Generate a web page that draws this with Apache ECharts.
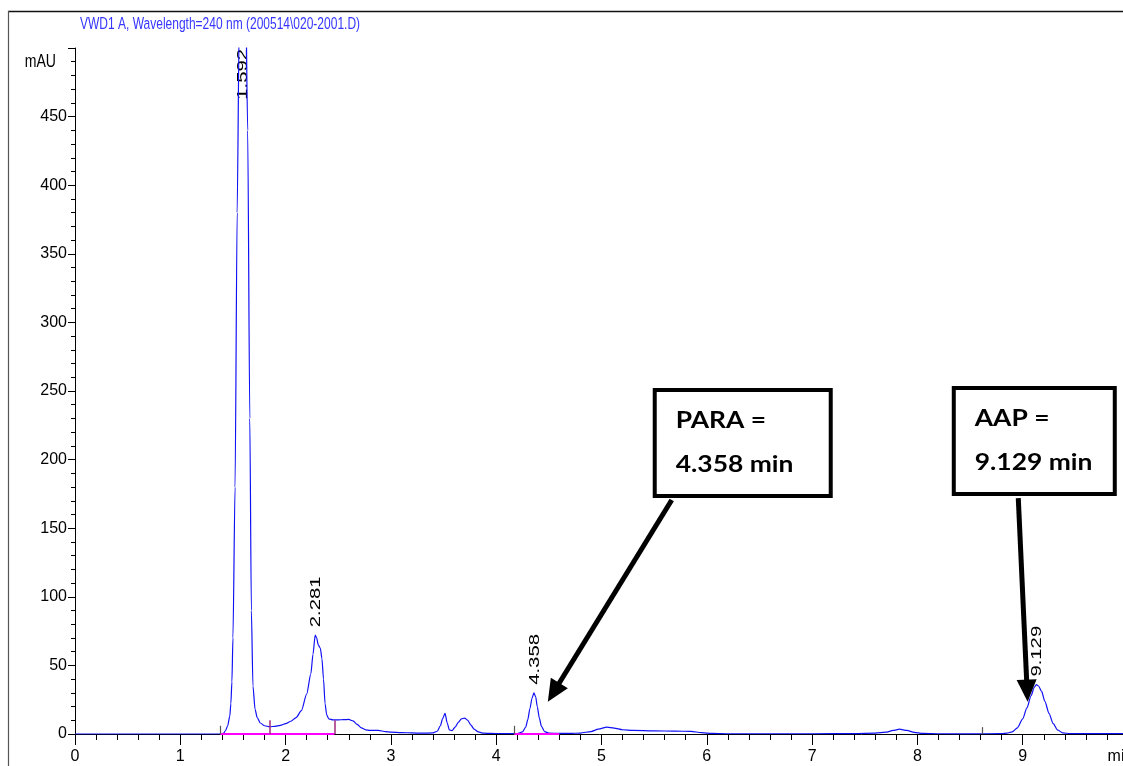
<!DOCTYPE html>
<html>
<head>
<meta charset="utf-8">
<script src="https://cdn.jsdelivr.net/npm/echarts/dist/echarts.min.js"></script>
<style>
  html, body { margin: 0; padding: 0; background: #ffffff; }
  #chart { width: 1123px; height: 766px; }
</style>
</head>
<body>
<div id="chart"></div>
<script>
// VWD1 A detector trace: [retention time (min), absorbance (mAU)]
const signal = [
  [0, 0], [1.38, 0], [1.41, 0.5], [1.43, 2.5], [1.45, 6], [1.47, 13], [1.48, 22], [1.49, 38],
  [1.50, 70], [1.52, 180], [1.54, 380], [1.56, 520], [1.592, 580], [1.62, 545], [1.64, 440],
  [1.66, 230], [1.675, 90], [1.69, 35], [1.71, 18], [1.73, 12], [1.76, 8], [1.80, 6], [1.85, 5.3],
  [1.90, 5.6], [1.95, 6.3], [2.00, 7.5], [2.05, 9.3], [2.10, 12], [2.15, 17], [2.20, 29],
  [2.24, 44], [2.26, 58], [2.281, 72], [2.295, 70], [2.31, 65], [2.33, 62.5], [2.345, 55],
  [2.36, 40], [2.375, 22], [2.39, 14], [2.41, 11], [2.45, 10.3], [2.50, 10.3], [2.55, 10.5],
  [2.60, 10.6], [2.64, 9.5], [2.68, 7], [2.72, 4.5], [2.76, 3], [2.80, 2.6], [2.88, 2.6],
  [2.95, 1.8], [3.00, 1.3], [3.10, 1.0], [3.20, 0.8], [3.30, 0.6], [3.40, 0.8], [3.44, 2.0],
  [3.47, 6], [3.49, 11], [3.514, 15], [3.535, 8], [3.555, 3], [3.58, 2.4], [3.61, 5],
  [3.64, 8.5], [3.67, 11], [3.70, 11.6], [3.73, 10], [3.76, 6.5], [3.79, 3.5], [3.83, 1.5],
  [3.88, 0.6], [3.95, 0.4], [4.05, 0.3], [4.20, 0.3], [4.25, 1.5], [4.28, 5], [4.30, 10.5],
  [4.32, 18.5], [4.34, 26], [4.358, 30], [4.375, 27], [4.39, 20], [4.41, 11.5], [4.43, 5.5],
  [4.46, 1.8], [4.50, 0.6], [4.60, 0.4], [4.70, 0.4], [4.80, 0.7], [4.90, 1.8], [4.97, 3.5],
  [5.05, 5.0], [5.12, 4.3], [5.20, 3.1], [5.30, 2.6], [5.50, 2.3], [5.70, 2.1], [5.85, 1.9],
  [5.95, 1.0], [6.05, 0.4], [6.20, 0.2], [6.60, 0.2], [7.00, 0.2], [7.40, 0.3], [7.60, 0.6],
  [7.70, 1.3], [7.77, 2.6], [7.83, 3.5], [7.90, 2.6], [7.97, 1.2], [8.05, 0.4], [8.20, 0.2],
  [8.50, 0.1], [8.80, 0.3], [8.85, 0.6], [8.90, 1.6], [8.95, 4.5], [9.00, 11], [9.04, 19],
  [9.08, 28], [9.11, 34], [9.129, 36], [9.15, 35], [9.18, 31], [9.21, 24], [9.25, 15],
  [9.29, 7.5], [9.33, 3], [9.38, 0.8], [9.45, 0.3], [9.60, 0.3], [9.80, 0.3], [10.0, 0.3]
];

// integrated peaks (retention times printed above each apex)
const peakTimes = [1.592, 2.281, 4.358, 9.129];
const peakLabels = ['1.592', '2.281', '4.358', '9.129'];

// integration baselines and event marks
const integrationBaselines = [[1.38, 2.463], [4.17, 4.60]];
const dropLines = [[1.845, 10], [2.463, 10]];
const eventMarks = [[1.38, 6], [4.17, 6], [8.62, 5]];

// call-out arrows: [from [min, mAU], to [min, mAU]]
const arrows = [
  [[5.667, 170.6], [4.545, 30.4]],
  [[8.958, 172.0], [9.042, 31.6]]
];
const callouts = [
  { lines: ['PARA =', '4.358 min'], offset: 17, width: 176 },
  { lines: ['AAP =', '9.129 min'], offset: 64.5, width: 161 }
];

const yMax = 500;
const xMax = 10;
const sans = '"Liberation Sans", Arial, sans-serif';

const chart = echarts.init(document.getElementById('chart'), null, { renderer: 'canvas' });

const option = {
  animation: false,
  backgroundColor: '#ffffff',
  grid: { left: 75, top: 48, right: -5, bottom: 32, containLabel: false, outerBoundsMode: 'none' },
  xAxis: {
    type: 'value', min: 0, max: xMax, interval: 1,
    axisLine: { show: true, onZero: false, lineStyle: { color: '#000', width: 1 } },
    axisTick: { show: true, length: 11, lineStyle: { color: '#000', width: 1 } },
    minorTick: { show: true, splitNumber: 5, length: 6, lineStyle: { color: '#000', width: 1 } },
    splitLine: { show: false },
    axisLabel: {
      margin: 15, color: '#000', fontSize: 16, fontFamily: sans,
      formatter: v => (v === xMax ? '{u|min}' : String(v)),
      rich: { u: { fontSize: 16, fontFamily: sans, color: '#000', padding: [0, 15, 0, 0] } }
    }
  },
  yAxis: {
    type: 'value', min: 0, max: yMax, interval: 50,
    axisLine: { show: true, lineStyle: { color: '#000', width: 1 } },
    axisTick: { show: true, length: 7, lineStyle: { color: '#000', width: 1 } },
    minorTick: { show: true, splitNumber: 5, length: 4, lineStyle: { color: '#000', width: 1 } },
    splitLine: { show: false },
    axisLabel: {
      margin: 8, color: '#000', fontSize: 16, fontFamily: sans,
      formatter: v => (v === yMax ? '' : String(v))
    }
  },
  series: [
    {
      name: 'VWD1 A', type: 'line', data: signal, showSymbol: false, symbol: 'none',
      smooth: 0.25, smoothMonotone: 'x', clip: true, z: 3,
      lineStyle: { color: '#1010f5', width: 1.2 }
    },
    {
      name: 'baseline', type: 'line', data: [], z: 4, silent: true,
      markLine: {
        silent: true, symbol: ['none', 'none'], label: { show: false },
        emphasis: { disabled: true },
        lineStyle: { color: '#ff00ff', width: 2, type: 'solid' },
        data: integrationBaselines.map(([a, b]) => [{ coord: [a, 0] }, { coord: [b, 0] }])
          .concat(dropLines.map(([t, h]) => [
            { coord: [t, 0], lineStyle: { color: '#a0287f', width: 1.5 } },
            { coord: [t, h] }
          ]))
          .concat(eventMarks.map(([t, h]) => [
            { coord: [t, 0], lineStyle: { color: '#555555', width: 1.2 } },
            { coord: [t, h] }
          ]))
      }
    },
    {
      name: 'arrows', type: 'line', data: [], z: 6, silent: true,
      markLine: {
        silent: true, symbol: ['none', 'triangle'], symbolSize: [20, 22],
        label: { show: false }, emphasis: { disabled: true },
        lineStyle: { color: '#000', width: 5, type: 'solid', opacity: 1 },
        itemStyle: { color: '#000' },
        data: arrows.map(([a, b]) => [{ coord: a }, { coord: b }])
      }
    }
  ]
};

chart.setOption(option);

const px = p => chart.convertToPixel({ gridIndex: 0 }, p);
const graphics = [];

// outer frame of the report page
graphics.push({ type: 'line', shape: { x1: 8, y1: 11.5, x2: 1123, y2: 11.5 }, style: { stroke: '#111', lineWidth: 1.3 }, silent: true });
graphics.push({ type: 'line', shape: { x1: 8.5, y1: 11, x2: 8.5, y2: 766 }, style: { stroke: '#555', lineWidth: 1.2 }, silent: true });

// signal title
graphics.push({
  type: 'text', x: 80, y: 17, scaleX: 0.8, scaleY: 1.05, silent: true,
  style: { text: 'VWD1 A, Wavelength=240 nm (200514\\020-2001.D)', fill: '#3535ff',
           font: '15px ' + sans, align: 'left', verticalAlign: 'top' }
});

// y-axis unit
{
  const [x0, yU] = px([0, 490]);
  graphics.push({
    type: 'text', x: x0 - 19, y: yU, scaleX: 0.88, scaleY: 1.1, silent: true,
    style: { text: 'mAU', fill: '#000', font: '16px ' + sans, align: 'right', verticalAlign: 'middle' }
  });
}

// retention-time labels above each peak, reading upward
peakTimes.forEach((t, i) => {
  const apex = signal.find(d => d[0] === t)[1];
  const clipped = apex >= yMax;
  const [x, y] = px([t, clipped ? yMax : apex]);
  graphics.push({
    type: 'text', x: x + 1, y: clipped ? y + 1 : y - 8, rotation: Math.PI / 2, scaleX: 1.45, silent: true,
    style: { text: peakLabels[i], fill: '#000', font: '14px ' + sans,
             align: clipped ? 'right' : 'left', verticalAlign: 'middle' }
  });
});

// call-out boxes at the tail of each arrow
const boxH = 106;
arrows.forEach(([from], i) => {
  const [tx, ty] = px(from);
  const c = callouts[i];
  const left = tx - c.offset;
  const top = ty - boxH - 4;
  graphics.push({
    type: 'rect', silent: true, z: 10,
    shape: { x: left, y: top, width: c.width, height: boxH },
    style: { fill: '#ffffff', stroke: '#000', lineWidth: 4 }
  });
  c.lines.forEach((s, k) => {
    graphics.push({
      type: 'text', silent: true, z: 11, x: left + 21, y: top + 31 + k * 44, scaleX: 1.2,
      style: { text: s, fill: '#000', font: 'bold 22px Lato, "Open Sans", sans-serif', align: 'left', verticalAlign: 'middle' }
    });
  });
});

chart.setOption({ graphic: graphics });
</script>
</body>
</html>
